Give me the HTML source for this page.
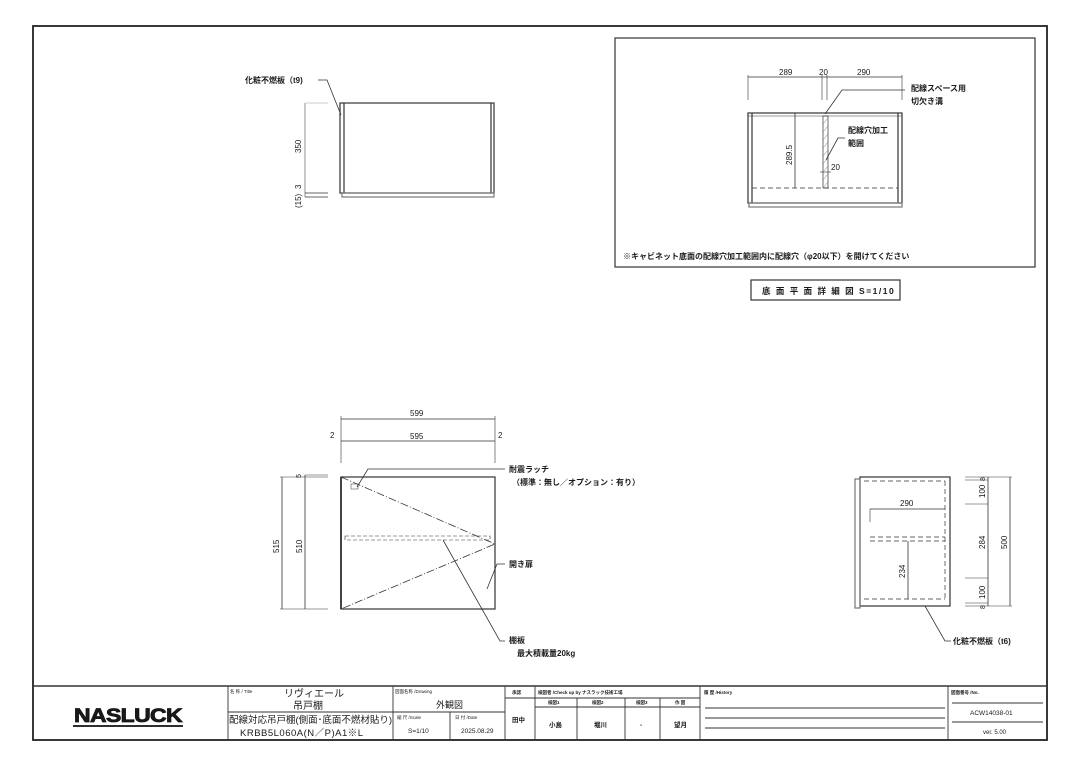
<!DOCTYPE html>
<html><head><meta charset="utf-8"><style>
html,body{margin:0;padding:0;background:#fff;}
svg{display:block;}
text{font-family:"Liberation Sans","Noto Sans CJK JP",sans-serif;fill:#1a1a1a;}
.b{font-weight:bold;}
</style></head><body>
<svg width="1080" height="764" viewBox="0 0 1080 764" xmlns="http://www.w3.org/2000/svg">
<rect x="0" y="0" width="1080" height="764" fill="#fff"/>
<rect x="33" y="26" width="1014" height="714" fill="none" stroke="#222" stroke-width="1.8"/>

<!-- Top-left view -->
<g stroke="#333" fill="none" stroke-width="1.2">
<rect x="340" y="103" width="154" height="90"/>
<line x1="344" y1="103" x2="344" y2="193"/>
<line x1="491" y1="103" x2="491" y2="193"/>
<rect x="342" y="193" width="152" height="4" stroke="#777"/>
<line x1="305" y1="103" x2="305" y2="197" stroke="#777" stroke-width="0.8"/>
<line x1="305" y1="103" x2="328" y2="103" stroke="#bbb" stroke-width="0.8"/>
<line x1="305" y1="193" x2="328" y2="193" stroke-width="0.8"/>
<line x1="305" y1="197" x2="328" y2="197" stroke-width="0.8"/>
<polyline points="341,115 327,80 318,80" stroke-width="0.8"/>
</g>
<text x="245" y="83" font-size="8" class="b">化粧不燃板（t9)</text>
<text transform="translate(301,153) rotate(-90)" font-size="8">350</text>
<text transform="translate(301,189) rotate(-90)" font-size="8">3</text>
<text transform="translate(301,208) rotate(-90)" font-size="8">(15)</text>

<!-- Top-right detail box -->
<rect x="615" y="38" width="420" height="229" fill="none" stroke="#333" stroke-width="1.2"/>
<g stroke="#333" fill="none" stroke-width="1.2">
<rect x="748" y="113" width="154" height="90"/>
<line x1="752" y1="113" x2="752" y2="203"/>
<line x1="898" y1="113" x2="898" y2="203"/>
<line x1="748" y1="116" x2="902" y2="116" stroke-width="0.6"/>
<rect x="749" y="203" width="153" height="4" stroke="#777"/>
<line x1="752" y1="188" x2="898" y2="188" stroke-dasharray="5,3" stroke-width="0.7"/>
<rect x="823" y="116" width="5" height="72" stroke-width="0.7"/>
<line x1="748" y1="77" x2="902" y2="77" stroke-width="0.8"/>
<line x1="748" y1="75" x2="748" y2="100" stroke-width="0.6"/>
<line x1="822" y1="75" x2="822" y2="100" stroke-width="0.6"/>
<line x1="827" y1="75" x2="827" y2="100" stroke-width="0.6"/>
<line x1="902" y1="75" x2="902" y2="100" stroke-width="0.6"/>
<line x1="795" y1="113" x2="795" y2="188" stroke-width="0.8"/>
<polyline points="825,114 842,90 905,90" stroke-width="0.8"/>
<polyline points="826,160 838,138 845,138" stroke-width="0.8"/>
<line x1="820" y1="172" x2="831" y2="172" stroke-width="0.6"/>
</g>
<g stroke="#777" stroke-width="0.5">
<line x1="823" y1="124" x2="828" y2="118"/><line x1="823" y1="132" x2="828" y2="126"/>
<line x1="823" y1="140" x2="828" y2="134"/><line x1="823" y1="148" x2="828" y2="142"/>
<line x1="823" y1="156" x2="828" y2="150"/><line x1="823" y1="164" x2="828" y2="158"/>
<line x1="823" y1="172" x2="828" y2="166"/><line x1="823" y1="180" x2="828" y2="174"/>
<line x1="823" y1="188" x2="828" y2="182"/>
</g>
<text x="779" y="75" font-size="8">289</text>
<text x="819" y="75" font-size="8">20</text>
<text x="857" y="75" font-size="8">290</text>
<text x="911" y="91" font-size="8" class="b">配線スペース用</text>
<text x="911" y="104" font-size="8" class="b">切欠き溝</text>
<text x="848" y="133" font-size="8" class="b">配線穴加工</text>
<text x="848" y="146" font-size="8" class="b">範囲</text>
<text x="831" y="170" font-size="8">20</text>
<text transform="translate(792,165) rotate(-90)" font-size="8">289.5</text>
<text x="623" y="259" font-size="8" class="b">※キャビネット底面の配線穴加工範囲内に配線穴（φ20以下）を開けてください</text>
<rect x="751" y="280" width="149" height="20" fill="none" stroke="#333" stroke-width="1.2"/>
<text x="762" y="294" font-size="8.5" letter-spacing="1.5" class="b">底 面 平 面 詳 細 図 S=1/10</text>

<!-- Front view -->
<g stroke="#333" fill="none" stroke-width="1.2">
<rect x="341" y="477" width="154" height="132"/>
<line x1="341" y1="477" x2="341" y2="609" stroke-width="1.8"/>
<polyline points="341,477 495,544 341,609" stroke-width="0.8" stroke-dasharray="8,2,1,2"/>
<rect x="345" y="536" width="145" height="4" stroke-dasharray="4,2" stroke-width="0.6"/>
<rect x="351" y="484" width="7" height="5" stroke-width="0.5"/>
<line x1="341" y1="419" x2="495" y2="419" stroke-width="0.8"/>
<line x1="341" y1="441" x2="495" y2="441" stroke-width="0.8"/>
<line x1="341" y1="416" x2="341" y2="463" stroke-width="0.6"/>
<line x1="495" y1="416" x2="495" y2="463" stroke-width="0.6"/>
<line x1="282" y1="477" x2="282" y2="609" stroke-width="0.8"/>
<line x1="305" y1="475" x2="305" y2="609" stroke-width="0.8"/>
<line x1="280" y1="477" x2="328" y2="477" stroke-width="0.6"/>
<line x1="305" y1="475" x2="328" y2="475" stroke-width="0.6"/>
<line x1="280" y1="609" x2="328" y2="609" stroke-width="0.6"/>
<polyline points="357,487 368,469 505,469" stroke-width="0.8"/>
<polyline points="487,589 497,564 505,564" stroke-width="0.8"/>
<polyline points="443,540 500,641 505,641" stroke-width="0.8"/>
</g>
<text x="410" y="416" font-size="8">599</text>
<text x="410" y="439" font-size="8">595</text>
<text x="330" y="438" font-size="8">2</text>
<text x="498" y="438" font-size="8">2</text>
<text transform="translate(279,553) rotate(-90)" font-size="8">515</text>
<text transform="translate(302,553) rotate(-90)" font-size="8">510</text>
<text transform="translate(301,478) rotate(-90)" font-size="7">5</text>
<text x="509" y="472" font-size="8" class="b">耐震ラッチ</text>
<text x="512" y="485" font-size="8" class="b">（標準：無し／オプション：有り）</text>
<text x="509" y="567" font-size="8" class="b">開き扉</text>
<text x="509" y="643" font-size="8" class="b">棚板</text>
<text x="517" y="656" font-size="8" class="b">最大積載量20kg</text>

<!-- Side view -->
<g stroke="#333" fill="none" stroke-width="1.2">
<rect x="860" y="477" width="90" height="129"/>
<rect x="855" y="479" width="5" height="129" stroke="#777"/>
<g stroke-dasharray="5,3" stroke-width="0.7">
<line x1="864" y1="481" x2="945" y2="481"/>
<line x1="864" y1="599" x2="945" y2="599"/>
<line x1="945" y1="481" x2="945" y2="599"/>
<line x1="870" y1="537" x2="945" y2="537"/>
<line x1="870" y1="541" x2="945" y2="541"/>
</g>
<line x1="870" y1="509" x2="945" y2="509" stroke-width="0.8"/>
<line x1="870" y1="509" x2="870" y2="522" stroke-width="0.6"/>
<line x1="908" y1="541" x2="908" y2="599" stroke-width="0.8"/>
<line x1="988" y1="477" x2="988" y2="606" stroke-width="0.8"/>
<line x1="1010" y1="477" x2="1010" y2="606" stroke-width="0.8"/>
<line x1="965" y1="477" x2="1012" y2="477" stroke-width="0.6"/>
<line x1="965" y1="480" x2="988" y2="480" stroke-width="0.6"/>
<line x1="965" y1="504" x2="988" y2="504" stroke-width="0.6"/>
<line x1="965" y1="578" x2="988" y2="578" stroke-width="0.6"/>
<line x1="965" y1="603" x2="988" y2="603" stroke-width="0.6"/>
<line x1="965" y1="606" x2="1012" y2="606" stroke-width="0.6"/>
<polyline points="925,606 945,641 951,641" stroke-width="0.8"/>
</g>
<text x="900" y="506" font-size="8">290</text>
<text transform="translate(905,578) rotate(-90)" font-size="8">234</text>
<text transform="translate(985,481) rotate(-90)" font-size="7">8</text>
<text transform="translate(985,498) rotate(-90)" font-size="8">100</text>
<text transform="translate(985,549) rotate(-90)" font-size="8">284</text>
<text transform="translate(985,599) rotate(-90)" font-size="8">100</text>
<text transform="translate(985,609) rotate(-90)" font-size="7">8</text>
<text transform="translate(1007,549) rotate(-90)" font-size="8">500</text>
<text x="953" y="644" font-size="8" class="b">化粧不燃板（t6)</text>

<!-- Title block -->
<g stroke="#333" fill="none" stroke-width="0.9">
<line x1="33" y1="686" x2="1047" y2="686" stroke-width="1.4"/>
<line x1="228" y1="686" x2="228" y2="740"/>
<line x1="393" y1="686" x2="393" y2="740"/>
<line x1="505" y1="686" x2="505" y2="740"/>
<line x1="535" y1="686" x2="535" y2="740"/>
<line x1="700" y1="686" x2="700" y2="740"/>
<line x1="948" y1="686" x2="948" y2="740"/>
<line x1="228" y1="712" x2="393" y2="712"/>
<line x1="393" y1="712" x2="505" y2="712"/>
<line x1="450" y1="712" x2="450" y2="740"/>
<line x1="505" y1="698" x2="700" y2="698"/>
<line x1="535" y1="707" x2="700" y2="707"/>
<line x1="577" y1="698" x2="577" y2="740"/>
<line x1="625" y1="698" x2="625" y2="740"/>
<line x1="660" y1="698" x2="660" y2="740"/>
<line x1="705" y1="708" x2="945" y2="708"/>
<line x1="705" y1="718" x2="945" y2="718"/>
<line x1="705" y1="728" x2="945" y2="728"/>
<line x1="952" y1="703" x2="1043" y2="703"/>
<line x1="952" y1="722" x2="1043" y2="722"/>
</g>
<text x="74" y="722" font-size="19" font-weight="900" letter-spacing="-0.5" textLength="108" lengthAdjust="spacingAndGlyphs" stroke="#111" stroke-width="0.8">NASLUCK</text>
<line x1="73" y1="726" x2="183" y2="726" stroke="#111" stroke-width="1.8"/>
<text x="230" y="693" font-size="4.5">名 称 / Title</text>
<text x="284" y="697" font-size="10">リヴィエール</text>
<text x="293" y="709" font-size="10">吊戸棚</text>
<text x="229" y="723" font-size="9.5">配線対応吊戸棚(側面･底面不燃材貼り)</text>
<text x="240" y="736" font-size="9.5" letter-spacing="0.5">KRBB5L060A(N／P)A1※L</text>
<text x="395" y="693" font-size="4.5">図面名称 /Drawing</text>
<text x="436" y="708" font-size="9">外観図</text>
<text x="397" y="719" font-size="4.5">縮 尺 /Scale</text>
<text x="455" y="719" font-size="4.5">日 付 /Date</text>
<text x="408" y="733" font-size="6.5">S=1/10</text>
<text x="461" y="733" font-size="6.5">2025.08.29</text>
<text x="512" y="694" font-size="4.5" class="b">承認</text>
<text x="512" y="722" font-size="6.5" class="b">田中</text>
<text x="538" y="694" font-size="4.5" class="b">検図者 /Check up by ナスラック技術工場</text>
<text x="548" y="704" font-size="4.5" class="b">検図1</text>
<text x="592" y="704" font-size="4.5" class="b">検図2</text>
<text x="636" y="704" font-size="4.5" class="b">検図3</text>
<text x="675" y="704" font-size="4.5" class="b">作 図</text>
<text x="549" y="727" font-size="6.5" class="b">小島</text>
<text x="594" y="727" font-size="6.5" class="b">堀川</text>
<text x="640" y="727" font-size="6.5" class="b">-</text>
<text x="674" y="727" font-size="6.5" class="b">望月</text>
<text x="704" y="694" font-size="4.5" class="b">履 歴 /History</text>
<text x="951" y="694" font-size="4.5" class="b">図面番号 /No.</text>
<text x="970" y="715" font-size="6.5">ACW14038-01</text>
<text x="983" y="734" font-size="6">ver. 5.00</text>
</svg>
</body></html>
